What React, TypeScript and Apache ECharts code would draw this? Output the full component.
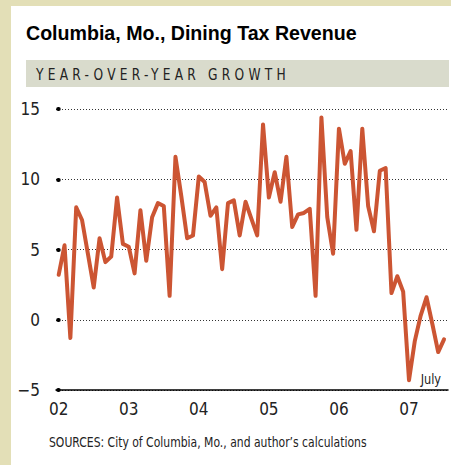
import React, { useEffect, useRef } from "react";
import * as echarts from "echarts";

const yearLabels = ["02", "03", "04", "05", "06", "07"];
const yTickLabels: Record<string, string> = { "-5": "\u22125", "0": "0", "5": "5", "10": "10", "15": "15" };

const g2002 = [3.2, 5.3, -1.3, 8.0, 7.1, 4.7, 2.3, 5.8, 4.1, 4.5, 8.7, 5.4];
const g2003 = [5.2, 3.3, 7.8, 4.2, 7.3, 8.3, 8.1, 1.7, 11.6, 8.8, 5.8, 6.0];
const g2004 = [10.2, 9.8, 7.4, 8.0, 3.6, 8.3, 8.5, 6.0, 8.4, 7.2, 6.0, 13.9];
const g2005 = [8.7, 10.5, 8.4, 11.6, 6.6, 7.5, 7.6, 7.9, 1.7, 14.4, 7.3, 4.7];
const g2006 = [13.6, 11.1, 12.0, 6.4, 13.6, 8.1, 6.3, 10.6, 10.8, 1.9, 3.1, 2.0];
const g2007 = [-4.3, -1.5, 0.3, 1.6, -0.3, -2.3, -1.4];

const growth = [...g2002, ...g2003, ...g2004, ...g2005, ...g2006, ...g2007];

const TITLE = "Columbia, Mo., Dining Tax Revenue";
const SUBTITLE = "YEAR-OVER-YEAR GROWTH";
const SOURCE = "SOURCES: City of Columbia, Mo., and author\u2019s calculations";
const LAST_LABEL = "July";

const NARROW = "'DejaVu Sans Condensed', 'Liberation Sans', sans-serif";

export default function App() {
  const ref = useRef<HTMLDivElement>(null);
  useEffect(() => {
    if (!ref.current) return;
    const chart = echarts.init(ref.current, null, { renderer: "svg" });
    chart.setOption({
      animation: false,
      backgroundColor: "#e3dfb7",
      grid: { left: 56, right: 3, top: 109, bottom: 75 },
      graphic: [
        { type: "rect", z: -10, shape: { x: 11, y: 6, width: 440, height: 459 }, style: { fill: "#ffffff" } },
        { type: "rect", z: -9, shape: { x: 26, y: 60, width: 423, height: 27 }, style: { fill: "#d9dbcc" } },
        {
          type: "text", x: 26, y: 33,
          style: { text: TITLE, font: "bold 19.6px 'Liberation Sans', Arial, sans-serif", fill: "#000", textVerticalAlign: "middle" },
        },
        {
          type: "text", x: 36, y: 74, scaleX: 0.85,
          style: { text: SUBTITLE, font: `16px ${NARROW}`, fill: "#222", textVerticalAlign: "middle" },
        },
        {
          type: "text", x: 49, y: 442, scaleX: 0.86,
          style: { text: SOURCE, font: `14px ${NARROW}`, fill: "#222", textVerticalAlign: "middle" },
        },
        {
          type: "text", x: 441, y: 379, scaleX: 0.9,
          style: { text: LAST_LABEL, font: `14px ${NARROW}`, fill: "#222", textAlign: "right", textVerticalAlign: "middle" },
        },
      ],
      xAxis: {
        type: "value",
        min: -0.46,
        max: 66.68,
        splitLine: { show: false },
        axisTick: { show: false },
        axisLine: { show: true, onZero: false, lineStyle: { color: "#000", width: 1.5 } },
        axisLabel: {
          customValues: [0, 12, 24, 36, 48, 60],
          formatter: (v: number) => yearLabels[Math.round(v / 12)] ?? "",
          color: "#222",
          fontFamily: NARROW,
          fontSize: 17,
          margin: 10,
        },
      },
      yAxis: {
        type: "value",
        min: -5,
        max: 15,
        interval: 5,
        axisLine: { show: false },
        axisTick: { show: true, length: 0.5, lineStyle: { color: "#000", width: 4, cap: "round" } },
        splitLine: { show: true, lineStyle: { color: "#333", width: 1, type: [1, 2] } },
        axisLabel: {
          formatter: (v: number) => yTickLabels[String(v)] ?? String(v),
          color: "#222",
          fontFamily: NARROW,
          fontSize: 17,
          margin: 16,
        },
      },
      series: [
        {
          type: "line",
          data: growth.map((v, i) => [i, v]),
          showSymbol: false,
          symbol: "none",
          lineStyle: { color: "#cc5533", width: 4, join: "round", cap: "round" },
        },
      ],
    });
    const texts = ref.current.querySelectorAll("text");
    texts.forEach((t) => {
      if (t.textContent === SUBTITLE) t.setAttribute("letter-spacing", "5");
    });
    return () => chart.dispose();
  }, []);
  return <div ref={ref} style={{ position: "absolute", left: 0, top: 0, width: 451, height: 465 }} />;
}
